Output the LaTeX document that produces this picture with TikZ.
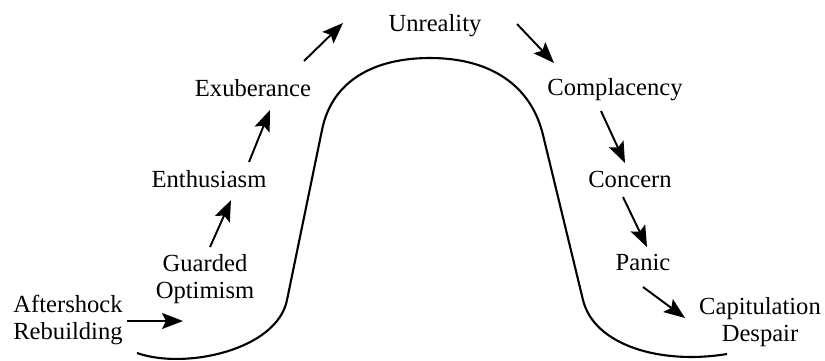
\documentclass[tikz,border=0pt]{standalone}
\usepackage{fontspec}
\setmainfont{Liberation Serif}
\usetikzlibrary{arrows.meta,calc}
\tikzset{stage/.style={inner sep=0pt, align=center, font=\fontsize{14}{15}\selectfont},
         move/.style={line width=1.1pt, -{Stealth[length=4.2mm,width=3.2mm,inset=0.8mm]}}}
\begin{document}
\begin{tikzpicture}[x=0.02cm, y=-0.02cm]
  \useasboundingbox (0,0) rectangle (825,360);
  \node[stage] (after) at (68,320) {Aftershock\\Rebuilding};
  \node[stage] (guard) at (205,279) {Guarded\\Optimism};
  \node[stage] (enth) at (209,179) {Enthusiasm};
  \node[stage] (exub) at (253,88) {Exuberance};
  \node[stage] (unreal) at (435,26) {Unreality};
  \node[stage] (compl) at (615,90) {Complacency};
  \node[stage] (conc) at (630,179) {Concern};
  \node[stage] (panic) at (643,262) {Panic};
  \node[stage] (capit) at (760,322) {Capitulation\\Despair};
  \coordinate (foot) at (183,321);
  \draw[line width=1.2pt] (137,353) .. controls (185,370) and (277,350) .. (287,300)
        -- (322,130) .. controls (332,80) and (375,58) .. (430,58)
        .. controls (490,58) and (531,85) .. (543,135)
        -- (583,300) .. controls (594,345) and (660,365) .. (727,354);
  \draw[move] ($(after)+(59,1)$) -- (foot);
  \draw[move] ($(guard)+(5,-32)$) -- ($(enth)+(22,21)$);
  \draw[move] ($(enth)+(40,-17)$) -- ($(exub)+(17,22)$);
  \draw[move] ($(exub)+(51,-27)$) -- ($(unreal)+(-92,-3)$);
  \draw[move] ($(unreal)+(82,-2)$) -- ($(compl)+(-61,-27)$);
  \draw[move] ($(compl)+(-14,21)$) -- ($(conc)+(-5,-16)$);
  \draw[move] ($(conc)+(-7,18)$) -- ($(panic)+(4,-15)$);
  \draw[move] ($(panic)+(0,25)$) -- ($(capit)+(-75,-4)$);
\end{tikzpicture}
\end{document}
